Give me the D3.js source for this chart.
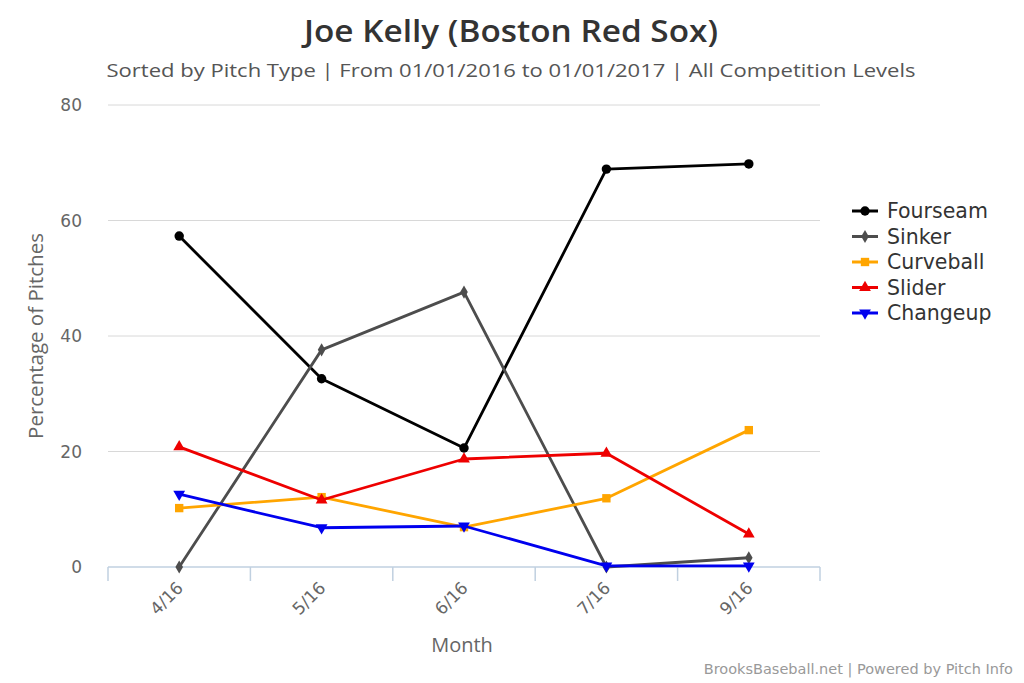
<!DOCTYPE html>
<html><head><meta charset="utf-8">
<script src="https://cdn.jsdelivr.net/npm/d3@7"></script>
<style>body{margin:0;background:#fff;}svg{display:block;}</style>
</head><body>
<svg id="c" width="1024" height="683"></svg>
<script>
const categories = ["4/16","5/16","6/16","7/16","9/16"];
const fourseam = [57.3, 32.6, 20.6, 68.9, 69.8];
const sinker = [0.0, 37.6, 47.6, 0.0, 1.6];
const curveball = [10.2, 12.1, 6.9, 11.9, 23.7];
const slider = [20.8, 11.6, 18.7, 19.7, 5.7];
const changeup = [12.6, 6.8, 7.1, 0.2, 0.2];
const yTicks = [0, 20, 40, 60, 80];
const seriesNames = ["Fourseam","Sinker","Curveball","Slider","Changeup"];
const seriesColors = ["#000000","#4d4d4d","#ffa500","#ee0000","#0000ee"];
const seriesSymbols = [d3.symbolCircle, d3.symbolDiamond, d3.symbolSquare, d3.symbolTriangle, "down"];
const seriesData = [fourseam, sinker, curveball, slider, changeup];

const svg = d3.select("#c");
const L = 108, R = 820, T = 105, B = 567;
const x = d3.scaleBand().domain(categories).range([L, R]);
const y = d3.scaleLinear().domain([0, 80]).range([B, T]);
const font = "'Open Sans', 'DejaVu Sans', sans-serif";
const dv = "'DejaVu Sans', sans-serif";

// title
svg.append("text").attr("x", 511).attr("y", 42).attr("text-anchor","middle")
  .attr("font-family", font).attr("font-size", 30).attr("font-weight", 600).attr("fill","#333")
  .attr("textLength", 414).attr("lengthAdjust","spacingAndGlyphs")
  .text("Joe Kelly (Boston Red Sox)");
svg.append("text").attr("x", 511).attr("y", 77).attr("text-anchor","middle")
  .attr("font-family", font).attr("font-size", 18).attr("fill","#555")
  .attr("textLength", 809).attr("lengthAdjust","spacingAndGlyphs")
  .text("Sorted by Pitch Type | From 01/01/2016 to 01/01/2017 | All Competition Levels");

// grid
svg.append("g").selectAll("line").data(yTicks.filter(d=>d>0)).join("line")
  .attr("x1", L).attr("x2", R).attr("y1", d=>y(d)).attr("y2", d=>y(d))
  .attr("stroke", "#d8d8d8").attr("stroke-width", 1);

// y axis labels
const yAxis = d3.axisLeft(y).tickValues(yTicks).tickSize(0).tickPadding(26);
const gy = svg.append("g").attr("transform", `translate(${L},0)`).call(yAxis);
gy.select(".domain").remove();
gy.selectAll("text").attr("font-family", dv).attr("font-size", 17).attr("fill", "#666").attr("dy","0.35em");

svg.append("text").attr("transform", "translate(43,336) rotate(-90)").attr("text-anchor","middle")
  .attr("font-family", font).attr("font-size", 20.5).attr("fill","#666").text("Percentage of Pitches");

// x axis
const xAxis = d3.axisBottom(x).tickSize(0).tickPadding(0);
const gx = svg.append("g").attr("transform", `translate(0,${B})`).call(xAxis);
gx.select(".domain").attr("stroke", "#c0d0e0").attr("stroke-width", 1.5).attr("d", `M${L},0H${R}`);
gx.selectAll("text").attr("font-family", dv).attr("font-size", 17).attr("fill","#666")
  .attr("text-anchor","end").attr("dy", 0)
  .attr("transform", "translate(5,22) rotate(-45)");
const bounds = categories.map(c => x(c)).concat([x(categories[categories.length-1]) + x.bandwidth()]);
svg.append("g").selectAll("line").data(bounds).join("line")
  .attr("x1", d=>d).attr("x2", d=>d).attr("y1", B).attr("y2", B+14)
  .attr("stroke", "#c0d0e0").attr("stroke-width", 1.5);
svg.append("text").attr("x", 462).attr("y", 652).attr("text-anchor","middle")
  .attr("font-family", font).attr("font-size", 20).attr("fill","#666").text("Month");

// lines
const cx = c => x(c) + x.bandwidth()/2;
function sym(s, size) {
  if (s === "down") return d3.symbol().type(d3.symbolTriangle).size(size)();
  return d3.symbol().type(s).size(size)();
}
seriesData.forEach((data, i) => {
  const pts = categories.map((c, j) => [cx(c), y(data[j])]);
  svg.append("path").attr("d", d3.line()(pts)).attr("fill","none")
    .attr("stroke", seriesColors[i]).attr("stroke-width", 2.8).attr("stroke-linejoin","round");
  const size = [70, 50, 70, 60, 60][i];
  svg.append("g").selectAll("path").data(pts).join("path")
    .attr("d", sym(seriesSymbols[i], size))
    .attr("transform", d => `translate(${d[0]},${d[1]})` + (seriesSymbols[i]==="down" ? " rotate(180)" : ""))
    .attr("fill", seriesColors[i]);
});

// legend
const lg = svg.append("g");
seriesNames.forEach((n, i) => {
  const yy = 211 + i*25.5;
  lg.append("line").attr("x1", 852).attr("x2", 878).attr("y1", yy).attr("y2", yy)
    .attr("stroke", seriesColors[i]).attr("stroke-width", 3);
  const size = [70, 50, 70, 60, 60][i];
  lg.append("path").attr("d", sym(seriesSymbols[i], size))
    .attr("transform", `translate(865,${yy})` + (seriesSymbols[i]==="down" ? " rotate(180)" : ""))
    .attr("fill", seriesColors[i]);
  lg.append("text").attr("x", 887).attr("y", yy).attr("dy","0.35em")
    .attr("font-family", dv).attr("font-size", 20.5).attr("fill","#333").text(n);
});

// credit
svg.append("text").attr("x", 1013).attr("y", 674).attr("text-anchor","end")
  .attr("font-family", dv).attr("font-size", 14.5).attr("fill","#999")
  .text("BrooksBaseball.net | Powered by Pitch Info");
</script>
</body></html>
